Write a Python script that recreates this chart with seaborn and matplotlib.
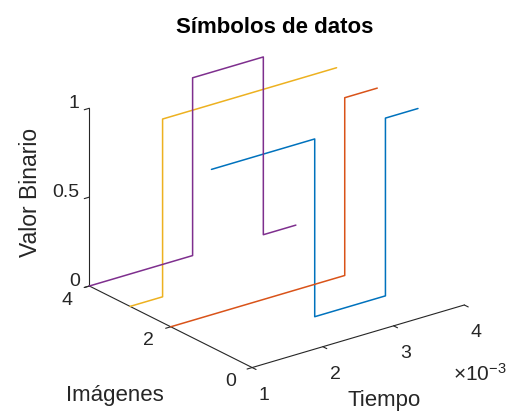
import numpy as np
import pandas as pd
import seaborn as sns
import matplotlib
matplotlib.use("Agg")
import matplotlib.pyplot as plt
from matplotlib.ticker import FuncFormatter

# ---- data ----
tiempo = [1.0e-3, 1.46e-3, 2.46e-3, 3.46e-3, 3.92e-3]   # segment edges (s)
imagenes = [1, 2, 3, 4]
bits_img1 = [1, 1, 0, 1]
bits_img2 = [0, 0, 0, 1]
bits_img3 = [0, 1, 1, 1]
bits_img4 = [0, 0, 1, 0]
x_ticks = [1e-3, 2e-3, 3e-3, 4e-3]
y_ticks = [0, 2, 4]
z_ticks = [0, 0.5, 1]
colores = ["#0072BD", "#D95319", "#EDB120", "#7E2F8E"]

sns.set_style("white")
plt.rcParams['font.family'] = ['Liberation Sans', 'DejaVu Sans']
plt.rcParams['mathtext.fontset'] = 'custom'
plt.rcParams['mathtext.rm'] = 'Liberation Sans'
plt.rcParams['mathtext.it'] = 'Liberation Sans:italic'
plt.rcParams['mathtext.bf'] = 'Liberation Sans:bold'

fig = plt.figure(figsize=(5.08, 4.12), dpi=100)
ax = fig.add_subplot(projection='3d', proj_type='ortho')
ax.set_position([0.034, -0.015, 1.0, 1.0])
ax.view_init(elev=22.6, azim=-127.5)
ax.set_box_aspect((1, 1, 0.72))

rows = []
for img, bits in zip(imagenes, [bits_img1, bits_img2, bits_img3, bits_img4]):
    xs = np.repeat(tiempo, 2)[1:-1]
    zs = np.repeat(bits, 2)
    for x, z in zip(xs, zs):
        rows.append(dict(t=x, img=img, val=z))
df = pd.DataFrame(rows)

for (img, g), c in zip(df.groupby("img"), colores):
    ax.plot(g["t"], g["img"], g["val"], color=c, lw=1.1)

ax.set_xlim(1e-3, 4e-3)
ax.set_ylim(0, 4)
ax.set_zlim(0, 1)
ax.set_xticks(x_ticks)
ax.set_yticks(y_ticks)
ax.set_zticks(z_ticks)
ax.xaxis.set_major_formatter(FuncFormatter(lambda v, p: f"{v*1e3:g}"))
ax.zaxis.set_major_formatter(FuncFormatter(lambda v, p: f"{v:g}"))
ax.grid(False)
for a in (ax.xaxis, ax.yaxis, ax.zaxis):
    a.set_pane_color((1, 1, 1, 0))
    a.pane.set_edgecolor((1, 1, 1, 0))
    a.line.set_color("#262626")
    a.line.set_linewidth(0.8)
    a._axinfo['tick']['inward_factor'] = 0.3
    a._axinfo['tick']['outward_factor'] = 0.0
ax.tick_params(labelsize=14, colors="#262626")
ax.tick_params(axis='z', pad=-4)
ax.tick_params(axis='y', pad=4)

fig.text(0.541, 0.934, "Símbolos de datos", ha="center", va="center",
         fontsize=16, fontweight="bold", color="black")
fig.text(0.06, 0.534, "Valor Binario", rotation=90, ha="center", va="center",
         fontsize=16.5, color="#262626")
fig.text(0.226, 0.041, "Imágenes", ha="center", va="center", fontsize=16, color="#262626")
fig.text(0.757, 0.028, "Tiempo", ha="center", va="center", fontsize=16, color="#262626")
fig.text(0.945, 0.092, r"$\times\mathrm{10^{-3}}$", ha="center", va="center", fontsize=15, color="#262626")

# tick label alignment
fig.canvas.draw()
for lab in ax.zaxis.get_majorticklabels():
    lab.set_ha('right')
    lab.set_va('baseline')
for lab in ax.yaxis.get_majorticklabels():
    lab.set_ha('right')
    lab.set_va('baseline')

fig.savefig("out.png", dpi=100)
